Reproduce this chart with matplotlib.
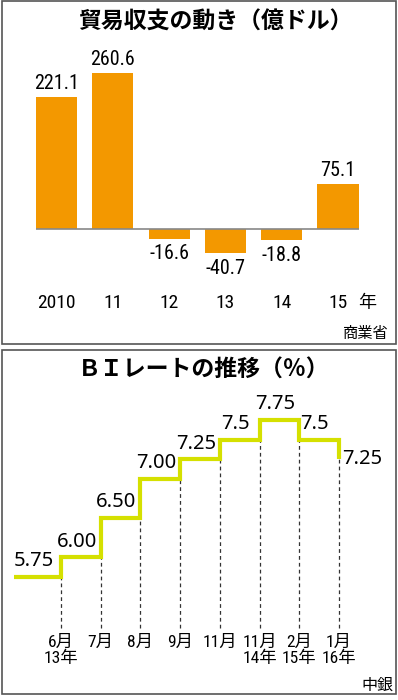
import matplotlib.pyplot as plt
from matplotlib.patches import Rectangle

# trade balance (100 million USD)
YEARS = ["2010", "11", "12", "13", "14", "15"]
BALANCE = [221.1, 260.6, -16.6, -40.7, -18.8, 75.1]

# BI rate (%)
RATES = [5.75, 6.00, 6.50, 7.00, 7.25, 7.50, 7.75, 7.50, 7.25]
RATE_LABELS = ["5.75", "6.00", "6.50", "7.00", "7.25", "7.5", "7.75", "7.5", "7.25"]
MONTHS = ["6月\n13年", "7月", "8月", "9月", "11月", "11月\n14年", "2月\n15年", "1月\n16年"]

W, H = 398, 700
NUM = ["Roboto Condensed", "Noto Sans CJK JP"]
JP = ["Noto Sans CJK JP", "DejaVu Sans"]
ORANGE = "#f39800"
LIME = "#d5e000"


def box(px_left, px_top, px_right, px_bottom):
    return [px_left / W, 1 - px_bottom / H, (px_right - px_left) / W, (px_bottom - px_top) / H]


fig = plt.figure(figsize=(W / 100, H / 100), dpi=100)

# panel frames
for top, bottom in [(1, 344), (350, 694)]:
    fig.patches.append(Rectangle((2 / W, 1 - bottom / H), 394 / W, (bottom - top) / H,
                                 transform=fig.transFigure, fill=False,
                                 edgecolor="#555555", linewidth=1.2))

# ---- top: trade balance bars ----
ax1 = fig.add_axes(box(0, 50, W, 290))
ax1.patch.set_alpha(0)
x = list(range(len(YEARS)))
bw = 0.73
ax1.bar(x, BALANCE, bw, color=ORANGE, zorder=2)
ax1.hlines(0, -bw / 2, len(YEARS) - 1 + bw / 2, color="#888888", linewidth=1.2, zorder=3)
for i, v in enumerate(BALANCE):
    if v >= 0:
        ax1.annotate(f"{v:.1f}", (i, v), xytext=(0, 3), textcoords="offset points",
                     ha="center", va="bottom", fontsize=14.5, family=NUM)
    else:
        ax1.annotate(f"{v:.1f}", (i, v), xytext=(0, -4), textcoords="offset points",
                     ha="center", va="top", fontsize=14.5, family=NUM)
ax1.set_xlim((0 - 56.5) / 56.3, (W - 56.5) / 56.3)
ax1.set_ylim(-(290 - 229) / 0.597, (229 - 50) / 0.597)
ax1.set_xticks(x, YEARS, family=NUM, fontsize=14)
ax1.tick_params(axis="x", length=0, pad=3)
ax1.set_yticks([])
for s in ax1.spines.values():
    s.set_visible(False)

fig.text(367 / W, 1 - 303 / H, "年", ha="center", va="center", fontsize=13, family=JP)
fig.text(78 / W, 1 - 22 / H, "貿易収支の動き（億ドル）", ha="left", va="center",
         fontsize=16.5, fontweight="bold", family=JP)
fig.text(389 / W, 1 - 333 / H, "商業省", ha="right", va="center", fontsize=11, family=JP)

# ---- bottom: BI rate steps ----
ax2 = fig.add_axes(box(0, 395, W, 632))
ax2.patch.set_alpha(0)
xs = [-1.18] + list(range(len(MONTHS)))
ax2.plot(xs, RATES, drawstyle="steps-post", color=LIME, linewidth=3,
         solid_joinstyle="miter", solid_capstyle="butt", zorder=3)
for i in range(len(MONTHS)):
    top = min(RATES[i], RATES[i + 1])
    ax2.vlines(i, 5.1, top, color="#333333", linewidth=0.9, linestyles=(0, (3, 2.5)), zorder=2)
for i in range(len(RATES) - 1):
    cx = (xs[i] + xs[i + 1]) / 2
    ax2.annotate(RATE_LABELS[i], (cx, RATES[i]), xytext=(-3, 4), textcoords="offset points",
                 ha="center", va="bottom", fontsize=14.5, family=["Noto Sans"])
ax2.annotate(RATE_LABELS[-1], (xs[-1], RATES[-1]), xytext=(2, 0), textcoords="offset points",
             ha="left", va="center", fontsize=14.5, family=["Noto Sans"])
ax2.set_xlim((0 - 61) / 39.7, (W - 61) / 39.7)
ax2.set_ylim(6 - (632 - 557.3) / 78.5, 6 + (557.3 - 395) / 78.5)
ax2.set_xticks(range(len(MONTHS)), MONTHS, family=NUM, fontsize=12.5, linespacing=1.05)
ax2.tick_params(axis="x", length=0, pad=2)
ax2.set_yticks([])
for s in ax2.spines.values():
    s.set_visible(False)

fig.text(78 / W, 1 - 370 / H, "ＢＩレートの推移（％）", ha="left", va="center",
         fontsize=16.5, fontweight="bold", family=JP)
fig.text(393 / W, 1 - 685 / H, "中銀", ha="right", va="center", fontsize=11.5, family=JP)

fig.savefig("out.png", dpi=100)
